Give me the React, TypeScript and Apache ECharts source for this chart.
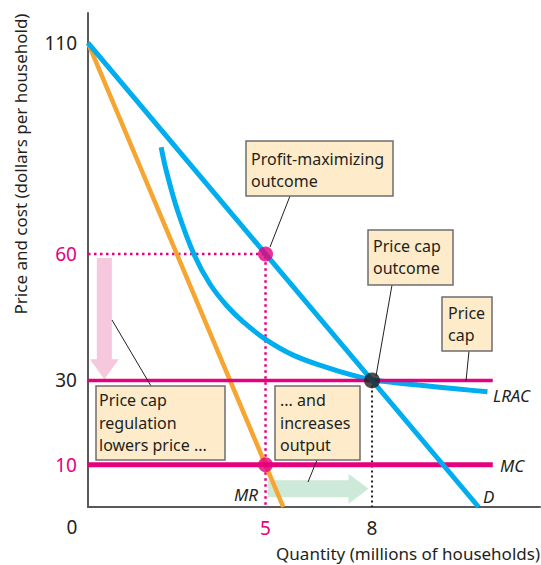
import React, { useEffect, useRef } from 'react';
import * as echarts from 'echarts';

// ---- data ----
const demand = [[0, 110], [11, 0]];
const marginalRevenue = [[0, 110], [5.5, 0]];
const marginalCost = [[0, 10], [11.4, 10]];
const priceCap = [[0, 30], [11.4, 30]];
const lrac = [
  [2.06, 85.3], [2.22, 79.2], [2.54, 69.8], [3.0, 59.6], [3.44, 52.8],
  [3.91, 47.7], [4.37, 43.9], [4.99, 39.8], [5.78, 36.0], [6.72, 33.1],
  [7.47, 31.2], [8.04, 30.1], [9.3, 28.9], [10.5, 27.9], [11.25, 27.3],
];
const profitMaxGuides = [[0, 60], [5, 60], [5, 0]];
const priceCapGuide = [[8, 30], [8, 0]];
const pinkPoints = [[5, 60], [5, 10]];
const blackPoints = [[8, 30]];
const priceArrow = [0.46, 59, 0.46, 30.3];
const outputArrow = [5.07, 4.3, 7.9, 4.3];
const yTicks = [10, 30, 60, 110];
const xTicks = [5, 8];
const highlightedTicks = [10, 60, 5];

const PINK = '#e5007d';
const BLUE = '#00aeef';
const ORANGE = '#f7a531';
const TEXT = '#231f20';
const AXIS = '#58595b';
const BOX_FILL = '#fdebc9';
const BOX_STROKE = '#6d6e70';
const FONT = '"Noto Sans", sans-serif';

function arrowRender(params: any, api: any) {
  const p1 = api.coord([api.value(0), api.value(1)]);
  const p2 = api.coord([api.value(2), api.value(3)]);
  const bw = api.value(4);
  const hw = api.value(5);
  const hl = api.value(6);
  const dx = p2[0] - p1[0];
  const dy = p2[1] - p1[1];
  const len = Math.sqrt(dx * dx + dy * dy);
  const ux = dx / len;
  const uy = dy / len;
  const nx = -uy;
  const ny = ux;
  const hb = [p2[0] - ux * hl, p2[1] - uy * hl];
  const pts = [
    [p1[0] + nx * bw, p1[1] + ny * bw],
    [hb[0] + nx * bw, hb[1] + ny * bw],
    [hb[0] + nx * hw, hb[1] + ny * hw],
    [p2[0], p2[1]],
    [hb[0] - nx * hw, hb[1] - ny * hw],
    [hb[0] - nx * bw, hb[1] - ny * bw],
    [p1[0] - nx * bw, p1[1] - ny * bw],
  ];
  return {
    type: 'polygon',
    shape: { points: pts },
    style: { fill: api.visual('color') },
  };
}

function box(x: number, y: number, w: number, h: number, lines: string[], tx: number, ty: number, lh: number) {
  return [
    {
      type: 'rect',
      shape: { x, y, width: w, height: h },
      style: { fill: BOX_FILL, stroke: BOX_STROKE, lineWidth: 1.5 },
      z: 100,
    },
    {
      type: 'text',
      x: tx,
      y: ty,
      style: {
        text: lines.join('\n'),
        fill: TEXT,
        font: `16px ${FONT}`,
        lineHeight: lh,
        align: 'left',
        verticalAlign: 'top',
      },
      z: 101,
    },
  ];
}

function leader(x1: number, y1: number, x2: number, y2: number) {
  return {
    type: 'line',
    shape: { x1, y1, x2, y2 },
    style: { stroke: TEXT, lineWidth: 1 },
    z: 99,
  };
}

function curveLabel(text: string, x: number, y: number) {
  return {
    type: 'text',
    x,
    y,
    style: {
      text,
      fill: TEXT,
      font: `italic 17px ${FONT}`,
      align: 'left',
      verticalAlign: 'middle',
    },
    z: 50,
  };
}

export default function App() {
  const ref = useRef<HTMLDivElement>(null);

  useEffect(() => {
    document.body.style.margin = '0';
    if (!ref.current) return;
    const chart = echarts.init(ref.current, null, { renderer: 'svg' });

    const tickFormatter = (v: number) =>
      highlightedTicks.includes(v) ? `{p|${v}}` : `{n|${v}}`;
    const tickRich = {
      p: { color: PINK, fontSize: 19, fontFamily: FONT },
      n: { color: TEXT, fontSize: 19, fontFamily: FONT },
    };

    const option: any = {
      animation: false,
      backgroundColor: '#ffffff',
      grid: { left: 88, right: 1, top: 13, bottom: 58, containLabel: false },
      xAxis: {
        type: 'value',
        min: 0,
        max: 12.73,
        axisLine: { show: true, onZero: false, lineStyle: { color: AXIS, width: 2 } },
        axisTick: { show: false },
        splitLine: { show: false },
        axisLabel: {
          customValues: xTicks,
          formatter: tickFormatter,
          rich: tickRich,
          margin: 11,
        },
      },
      yAxis: {
        type: 'value',
        min: 0,
        max: 117.1,
        axisLine: { show: true, onZero: false, lineStyle: { color: AXIS, width: 2 } },
        axisTick: { show: false },
        splitLine: { show: false },
        axisLabel: {
          customValues: yTicks,
          formatter: tickFormatter,
          rich: tickRich,
          margin: 11,
        },
      },
      series: [
        {
          type: 'custom',
          name: 'arrows',
          renderItem: arrowRender,
          encode: { x: [0, 2], y: [1, 3] },
          data: [
            { value: [...priceArrow, 7.5, 14.5, 20], itemStyle: { color: '#f6c8dd' } },
            { value: [...outputArrow, 8.5, 15, 20], itemStyle: { color: '#cde9d7' } },
          ],
          z: 1,
          silent: true,
        },
        {
          type: 'line',
          data: profitMaxGuides,
          symbol: 'none',
          lineStyle: { color: PINK, width: 2.5, type: [2.5, 3.5] },
          z: 2,
        },
        {
          type: 'line',
          data: priceCapGuide,
          symbol: 'none',
          lineStyle: { color: TEXT, width: 2, type: [2, 3] },
          z: 2,
        },
        {
          type: 'line',
          name: 'MR',
          data: marginalRevenue,
          symbol: 'none',
          lineStyle: { color: ORANGE, width: 4.5 },
          z: 3,
        },
        {
          type: 'line',
          name: 'LRAC',
          data: lrac,
          symbol: 'none',
          smooth: 0.4,
          lineStyle: { color: BLUE, width: 5 },
          z: 3,
        },
        {
          type: 'line',
          name: 'Price cap',
          data: priceCap,
          symbol: 'none',
          lineStyle: { color: PINK, width: 3.5 },
          z: 4,
        },
        {
          type: 'line',
          name: 'MC',
          data: marginalCost,
          symbol: 'none',
          lineStyle: { color: PINK, width: 5 },
          z: 4,
        },
        {
          type: 'line',
          name: 'D',
          data: demand,
          symbol: 'none',
          lineStyle: { color: BLUE, width: 5 },
          z: 5,
        },
        {
          type: 'scatter',
          data: pinkPoints,
          symbolSize: 15,
          itemStyle: { color: PINK },
          z: 6,
        },
        {
          type: 'scatter',
          data: blackPoints,
          symbolSize: 16,
          itemStyle: { color: TEXT },
          z: 6,
        },
      ],
      graphic: [
        ...box(246, 141, 147, 55, ['Profit-maximizing', 'outcome'], 251, 148, 22),
        ...box(368, 230, 85, 55, ['Price cap', 'outcome'], 373, 235, 22),
        ...box(442, 297, 50, 54, ['Price', 'cap'], 448, 302, 22),
        ...box(96, 386, 129, 74, ['Price cap', 'regulation', 'lowers price ...'], 99, 389, 22.5),
        ...box(275, 386, 85, 74, ['... and', 'increases', 'output'], 280, 389, 22.5),
        leader(290, 196, 270, 247),
        leader(392, 285, 376, 376),
        leader(469, 351, 466, 381),
        leader(151, 386, 112, 320),
        leader(317, 460, 308, 482),
        curveLabel('LRAC', 493, 395),
        curveLabel('MC', 500, 465),
        curveLabel('D', 483, 496),
        curveLabel('MR', 234, 494),
        {
          type: 'text',
          x: 72,
          y: 527,
          style: {
            text: '0',
            fill: TEXT,
            font: `19px ${FONT}`,
            align: 'center',
            verticalAlign: 'middle',
          },
        },
        {
          type: 'text',
          x: 540,
          y: 553,
          style: {
            text: 'Quantity (millions of households)',
            fill: TEXT,
            font: `17px ${FONT}`,
            align: 'right',
            verticalAlign: 'middle',
          },
        },
        {
          type: 'text',
          x: 20,
          y: 164,
          rotation: Math.PI / 2,
          style: {
            text: 'Price and cost (dollars per household)',
            fill: TEXT,
            font: `17px ${FONT}`,
            align: 'center',
            verticalAlign: 'middle',
          },
        },
      ],
    };

    chart.setOption(option);
    return () => chart.dispose();
  }, []);

  return <div ref={ref} style={{ width: 541, height: 565 }} />;
}
